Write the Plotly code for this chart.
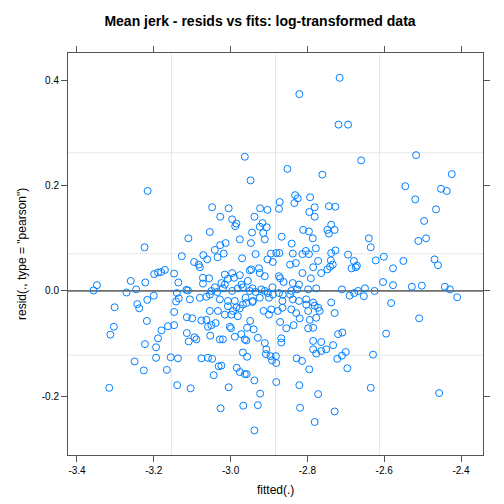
import plotly.graph_objects as go

# residuals vs fitted values, read region by region off the lattice plot
fitted_top = [-2.716, -2.821, -2.719, -2.694, -2.963, -2.517, -2.660, -2.852, -2.761, -2.424,
              -3.216, -3.224, -3.110, -3.127, -3.071, -3.095, -3.083, -3.080]
resid_top = [0.405, 0.374, 0.316, 0.316, 0.255, 0.258, 0.248, 0.232, 0.221, 0.222,
             0.190, 0.083, 0.100, 0.066, 0.068, 0.055, 0.050, 0.045]

fitted_upper = [-2.948, -3.048, -3.005, -3.027, -2.923, -2.904, -2.872, -2.874, -2.832, -2.825,
                -2.834, -2.793, -2.781, -2.795, -2.781, -2.744, -2.727, -2.996, -2.985, -2.988,
                -2.938, -2.917, -2.924, -2.906, -2.915, -2.944, -2.911, -3.054, -2.976, -2.947,
                -3.013, -3.027, -3.041, -3.018, -3.034, -3.061, -2.970, -2.935, -2.867, -2.841,
                -2.811, -2.796, -2.786, -2.738, -2.748, -2.729, -2.744, -2.778, -2.804, -2.796,
                -2.813, -2.838, -2.873, -2.881, -2.895, -2.904, -2.890, -2.845, -2.830, -2.772,
                -2.785, -2.738, -2.727, -2.739, -2.734, -2.741, -2.926, -2.946, -2.694]
resid_upper = [0.210, 0.159, 0.157, 0.141, 0.157, 0.154, 0.169, 0.156, 0.182, 0.176,
               0.167, 0.178, 0.159, 0.150, 0.141, 0.161, 0.160, 0.136, 0.128, 0.123,
               0.141, 0.129, 0.122, 0.121, 0.110, 0.111, 0.098, 0.112, 0.098, 0.091,
               0.091, 0.087, 0.078, 0.071, 0.064, 0.060, 0.062, 0.070, 0.103, 0.090,
               0.116, 0.113, 0.100, 0.126, 0.116, 0.116, 0.109, 0.081, 0.076, 0.070,
               0.070, 0.071, 0.072, 0.072, 0.071, 0.060, 0.055, 0.050, 0.053, 0.057,
               0.045, 0.072, 0.077, 0.058, 0.050, 0.046, 0.043, 0.041, 0.069]

fitted_right = [-2.545, -2.452, -2.437, -2.519, -2.465, -2.496, -2.640, -2.635, -2.511, -2.491,
                -2.679, -2.671, -2.674, -2.685, -2.622, -2.601, -2.550, -2.577, -2.469, -2.460,
                -2.603, -2.577, -2.528, -2.502, -2.442, -2.429, -2.410, -2.690, -2.678, -2.668,
                -2.650, -2.653, -2.625, -2.582, -2.509, -2.595, -2.629]
resid_right = [0.199, 0.194, 0.190, 0.174, 0.155, 0.133, 0.100, 0.083, 0.095, 0.100,
               0.057, 0.048, 0.045, 0.043, 0.058, 0.065, 0.057, 0.043, 0.060, 0.049,
               0.017, 0.011, 0.008, 0.010, 0.008, 0.003, -0.012, -0.009, -0.004, 0.000,
               0.005, -0.010, 0.000, -0.023, -0.052, -0.081, -0.121]

fitted_left = [-3.348, -3.357, -3.302, -3.304, -3.313, -3.260, -3.271, -3.246, -3.222, -3.243,
               -3.238, -3.217, -3.200, -3.218, -3.199, -3.189, -3.181, -3.171, -3.147, -3.136,
               -3.140, -3.135, -3.142, -3.147, -3.147, -3.163, -3.180, -3.189, -3.194, -3.223,
               -3.194, -3.250, -3.156, -3.137, -3.115, -3.111, -3.106, -3.080, -3.063, -3.114,
               -3.100, -3.076, -3.063, -3.059, -3.114, -3.109, -3.094, -3.089, -3.076, -3.072, -3.072]
resid_left = [0.011, 0.001, -0.031, -0.068, -0.083, 0.019, -0.003, 0.003, 0.016, -0.025,
              -0.033, -0.017, -0.009, -0.057, 0.032, 0.035, 0.036, 0.040, 0.033, 0.016,
              -0.004, -0.014, -0.020, -0.040, -0.065, -0.067, -0.075, -0.090, -0.107, -0.101,
              -0.127, -0.134, -0.126, -0.128, 0.002, 0.001, -0.016, -0.013, -0.011, -0.050,
              -0.052, -0.056, -0.055, -0.068, -0.080, -0.096, -0.088, -0.092, -0.128, 0.025, 0.014]

fitted_centre = [-3.056, -3.015, -2.996, -2.976, -2.950, -2.924, -2.911, -2.955, -2.874, -2.871,
                 -2.862, -2.838, -2.822, -2.813, -3.041, -3.024, -3.015, -3.020, -2.996, -2.981,
                 -2.972, -2.968, -2.950, -2.943, -2.935, -2.920, -2.911, -2.903, -2.891, -2.890,
                 -2.874, -2.864, -2.845, -2.842, -2.827, -2.798, -3.054, -3.050, -3.028, -3.007,
                 -2.989, -2.961, -2.942, -2.924, -2.900, -2.865, -2.838, -2.822, -2.803, -3.054,
                 -3.033, -3.007, -2.994, -2.985, -2.976, -2.968, -2.959, -2.943, -2.914, -2.894,
                 -2.877, -2.865, -2.829, -2.803, -2.798, -2.998, -2.981, -2.900, -3.015, -3.007,
                 -3.035, -2.991, -2.842]
resid_centre = [0.024, 0.031, 0.034, 0.030, 0.039, 0.034, 0.028, 0.019, 0.028, 0.024,
                0.017, 0.015, 0.012, 0.034, 0.007, 0.015, 0.012, 0.005, 0.000, 0.005,
                0.012, 0.007, 0.000, 0.005, -0.002, 0.003, 0.000, -0.004, 0.007, -0.007,
                -0.004, -0.007, -0.007, 0.000, 0.003, 0.003, -0.007, 0.000, -0.016, -0.019,
                -0.019, -0.013, -0.019, -0.013, -0.013, -0.019, -0.016, -0.019, -0.016, -0.038,
                -0.038, -0.029, -0.038, -0.031, -0.033, -0.026, -0.023, -0.021, -0.038, -0.035,
                -0.038, -0.032, -0.042, -0.026, -0.038, -0.045, -0.048, -0.045, -0.045, 0.023,
                -0.002, 0.025, -0.035]

fitted_lower = [-2.764, -2.748, -2.791, -2.777, -2.710, -2.785, -2.781, -2.772, -2.768, -2.738,
                -2.777, -2.729, -3.050, -3.039, -3.002, -2.999, -2.957, -2.940, -2.949, -2.871,
                -2.855, -2.836, -2.798, -2.785, -2.820, -2.794, -3.053, -3.028, -3.020, -2.989,
                -2.972, -2.963, -2.959, -2.929, -2.911, -2.868, -2.868, -2.785, -2.764, -2.720,
                -2.709, -2.733, -2.751, -2.764, -2.777, -2.785, -2.907, -2.968, -2.957, -3.059,
                -3.048, -2.700]
resid_lower = [0.034, 0.041, 0.024, 0.005, 0.003, -0.022, -0.028, -0.032, -0.038, -0.022,
               -0.051, -0.042, -0.065, -0.061, -0.068, -0.071, -0.070, -0.073, -0.057, -0.059,
               -0.071, -0.065, -0.071, -0.070, -0.052, -0.055, -0.085, -0.092, -0.092, -0.087,
               -0.082, -0.092, -0.094, -0.089, -0.099, -0.090, -0.098, -0.095, -0.097, -0.082,
               -0.079, -0.103, -0.111, -0.114, -0.119, -0.111, -0.111, -0.117, -0.125, -0.127,
               -0.129, -0.116]

fitted_bottom = [-3.316, -3.226, -3.166, -3.139, -3.104, -3.031, -3.024, -3.044, -3.005, -3.026,
                 -2.984, -2.976, -2.963, -2.958, -2.938, -2.923, -2.967, -2.929, -2.938, -2.908,
                 -2.896, -2.892, -2.882, -2.881, -2.881, -2.828, -2.814, -2.795, -2.821, -2.772,
                 -2.819, -2.781, -2.729, -2.722, -2.710, -2.696, -2.635, -2.457]
resid_bottom = [-0.184, -0.151, -0.150, -0.179, -0.185, -0.143, -0.142, -0.160, -0.183, -0.223,
                -0.146, -0.154, -0.158, -0.158, -0.170, -0.195, -0.218, -0.217, -0.265, -0.120,
                -0.124, -0.132, -0.124, -0.137, -0.173, -0.128, -0.133, -0.149, -0.179, -0.196,
                -0.222, -0.249, -0.229, -0.129, -0.123, -0.147, -0.184, -0.194]

x_ticks = [-3.4, -3.2, -3.0, -2.8, -2.6, -2.4]
y_ticks = [-0.2, 0.0, 0.2, 0.4]
grid_x = [-3.154, -2.883, -2.612]
grid_y = [-0.122, 0.0705, 0.2625]

fitted = fitted_top + fitted_upper + fitted_right + fitted_left + fitted_centre + fitted_lower + fitted_bottom
resid = resid_top + resid_upper + resid_right + resid_left + resid_centre + resid_lower + resid_bottom

font = "Liberation Sans, Arial, Helvetica, sans-serif"
frame = "#555555"

fig = go.Figure()
fig.add_trace(go.Scatter(
    x=fitted, y=resid, mode="markers",
    marker=dict(symbol="circle-open", size=7, color="#0080ff", line=dict(width=1, color="#0080ff")),
    showlegend=False, hoverinfo="x+y"))

shapes = []
for gx in grid_x:
    shapes.append(dict(type="line", xref="x", yref="paper", x0=gx, x1=gx, y0=0, y1=1,
                       line=dict(color="#e6e6e6", width=1), layer="below"))
for gy in grid_y:
    shapes.append(dict(type="line", xref="paper", yref="y", x0=0, x1=1, y0=gy, y1=gy,
                       line=dict(color="#e6e6e6", width=1), layer="below"))
# reference line at zero
shapes.append(dict(type="line", xref="paper", yref="y", x0=0, x1=1, y0=0, y1=0,
                   line=dict(color="black", width=1), layer="below"))

axis_common = dict(showline=True, linecolor=frame, linewidth=1, mirror="ticks",
                   ticks="outside", ticklen=6, tickcolor=frame, tickwidth=1,
                   showgrid=False, zeroline=False,
                   tickfont=dict(family=font, size=10, color="black"))

fig.update_layout(
    width=504, height=504,
    margin=dict(l=60, r=29, t=45, b=57),
    paper_bgcolor="white", plot_bgcolor="white",
    font=dict(family=font, color="black"),
    title=dict(text="Mean jerk - resids vs fits: log-transformed data",
               x=0.5, xanchor="center", y=1 - 13 / 504, yanchor="middle",
               font=dict(family=font, size=14, color="black", weight="bold")),
    xaxis=dict(range=[-3.4234, -2.3427], tickvals=x_ticks,
               ticktext=[f"{v:.1f}" for v in x_ticks], **axis_common),
    yaxis=dict(range=[-0.3117, 0.4521], tickvals=y_ticks,
               ticktext=[f"{v:.1f}" for v in y_ticks], **axis_common),
    shapes=shapes,
    annotations=[
        dict(text="fitted(.)", xref="paper", yref="paper", x=0.5, y=0,
             xanchor="center", yanchor="middle", yshift=-35, showarrow=False,
             font=dict(family=font, size=12, color="black")),
        dict(text='resid(., type = "pearson")', xref="paper", yref="paper", x=0, y=0.5,
             xanchor="center", yanchor="middle", xshift=-46, textangle=-90, showarrow=False,
             font=dict(family=font, size=12, color="black")),
    ],
)

fig.write_html("out.html")
